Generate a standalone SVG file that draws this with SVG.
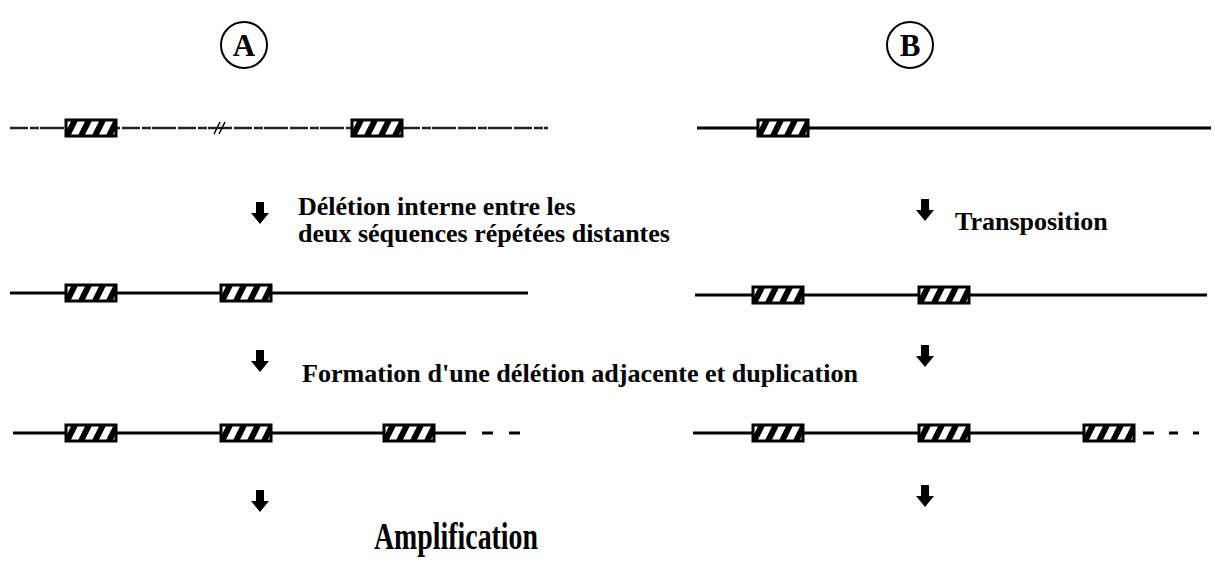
<svg xmlns="http://www.w3.org/2000/svg" width="1215" height="569" viewBox="0 0 1215 569">
<style>
.t{font-family:"Liberation Serif","Times New Roman",serif;font-weight:bold;fill:#000}
.ln{stroke:#000;stroke-width:3;fill:none}
.dash{stroke:#000;stroke-width:3}
.arr{fill:#000}
</style>
<defs>
<clipPath id="bc"><rect x="0" y="0" width="50" height="16"/></clipPath>
<g id="hbox">
<rect x="0" y="0" width="50" height="16" fill="#fff"/>
<g clip-path="url(#bc)"><path d="M1,16 L9,0 M15,16 L23,0 M29,16 L37,0 M43,16 L51,0" stroke="#000" stroke-width="6"/></g>
<rect x="0" y="0" width="50" height="16" fill="none" stroke="#000" stroke-width="3"/>
</g>
<path id="dn" d="M-4,0 H4 V11 H9 L0,22 L-9,11 H-4 Z"/>
</defs>
<g id="labelA"><circle cx="244" cy="45" r="23" fill="none" stroke="#000" stroke-width="2"/><text class="t" x="244" y="56" font-size="31" text-anchor="middle">A</text></g>
<g id="labelB"><circle cx="910" cy="45" r="23" fill="none" stroke="#000" stroke-width="2"/><text class="t" x="910" y="56" font-size="31" text-anchor="middle">B</text></g>
<g id="connectors">
<use href="#dn" class="arr" x="260" y="202"/>
<use href="#dn" class="arr" x="925" y="199"/>
<use href="#dn" class="arr" x="260" y="350"/>
<use href="#dn" class="arr" x="925" y="345"/>
<use href="#dn" class="arr" x="260" y="490"/>
<use href="#dn" class="arr" x="925" y="485"/>
</g>
<g id="rowA1">
<line x1="10" y1="128" x2="548" y2="128" stroke="#222" stroke-width="2.5" stroke-dasharray="18 2 9 1 24 2"/>
<path d="M214,134 L220,122 M219,134 L225,122" stroke="#000" stroke-width="1.5"/>
<use href="#hbox" x="66" y="120"/>
<use href="#hbox" x="352" y="120"/>
</g>
<g id="rowB1">
<line class="ln" x1="697" y1="128" x2="1211" y2="128"/>
<use href="#hbox" x="758" y="120"/>
</g>
<g id="textA1"><text class="t" x="298" y="215" font-size="26">Délétion interne entre les</text><text class="t" x="298" y="242" font-size="26">deux séquences répétées distantes</text></g>
<g id="textB1"><text class="t" x="955" y="230" font-size="26">Transposition</text></g>
<g id="rowA2">
<line class="ln" x1="10" y1="293" x2="528" y2="293"/>
<use href="#hbox" x="66" y="285"/>
<use href="#hbox" x="221" y="285"/>
</g>
<g id="rowB2">
<line class="ln" x1="695" y1="295" x2="1207" y2="295"/>
<use href="#hbox" x="753" y="287"/>
<use href="#hbox" x="919" y="287"/>
</g>
<g id="textMid"><text class="t" x="302" y="382" font-size="26" textLength="556" lengthAdjust="spacingAndGlyphs">Formation d'une délétion adjacente et duplication</text></g>
<g id="rowA3">
<line class="ln" x1="13" y1="433" x2="455" y2="433"/>
<use href="#hbox" x="66" y="425"/>
<use href="#hbox" x="221" y="425"/>
<use href="#hbox" x="384" y="425"/>
<path class="dash" d="M455,433 H466 M482,433 H493 M509,433 H520"/>
</g>
<g id="rowB3">
<line class="ln" x1="693" y1="433" x2="1085" y2="433"/>
<use href="#hbox" x="753" y="425"/>
<use href="#hbox" x="919" y="425"/>
<use href="#hbox" x="1084" y="425"/>
<path class="dash" d="M1143,433 H1154 M1169,433 H1178 M1193,433 H1199"/>
</g>
<g id="textAmp"><text class="t" x="456" y="549" font-size="38" text-anchor="middle" textLength="164" lengthAdjust="spacingAndGlyphs">Amplification</text></g>
</svg>
